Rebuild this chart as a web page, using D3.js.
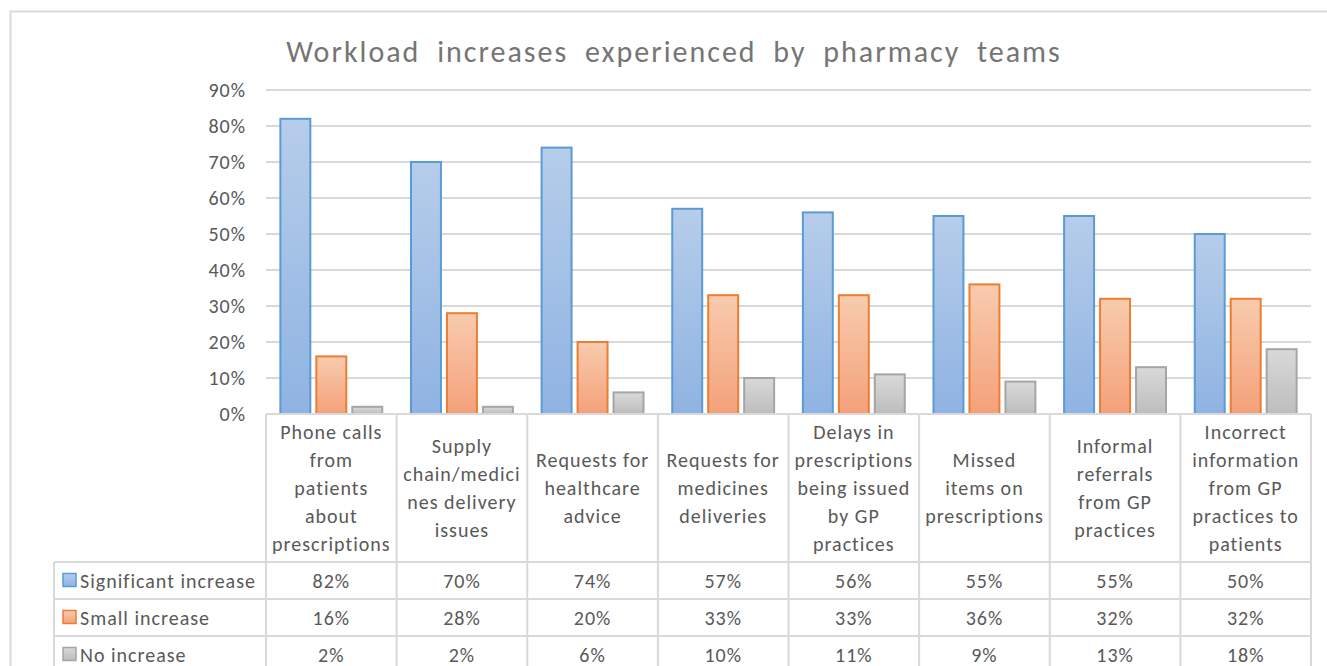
<!DOCTYPE html>
<html>
<head>
<meta charset="utf-8">
<script src="https://cdn.jsdelivr.net/npm/d3@7"></script>
<style>
  body { margin: 0; background: #fff; }
  text { font-family: Carlito, Calibri, Lato, "Open Sans", sans-serif; fill: #595959; letter-spacing: 1px; }
</style>
</head>
<body>
<div id="chart"></div>
<script>
// data
const categories = [
    ["Phone calls", "from", "patients", "about", "prescriptions"],
    ["Supply", "chain/medici", "nes delivery", "issues"],
    ["Requests for", "healthcare", "advice"],
    ["Requests for", "medicines", "deliveries"],
    ["Delays in", "prescriptions", "being issued", "by GP", "practices"],
    ["Missed", "items on", "prescriptions"],
    ["Informal", "referrals", "from GP", "practices"],
    ["Incorrect", "information", "from GP", "practices to", "patients"]
];
const seriesNames = ["Significant increase", "Small increase", "No increase"];
const significant = [82, 70, 74, 57, 56, 55, 55, 50];
const small = [16, 28, 20, 33, 33, 36, 32, 32];
const noIncrease = [2, 2, 6, 10, 11, 9, 13, 18];
const yTicks = [0, 10, 20, 30, 40, 50, 60, 70, 80, 90];

const seriesValues = [significant, small, noIncrease];
const strokes = ["#5b9bd5", "#ed7d31", "#a5a5a5"];
const gradTop = ["#b6cdea", "#f8cbae", "#d9d9d9"];
const gradBottom = ["#8fb3e2", "#f4a17a", "#bdbdbd"];

const width = 1327, height = 666;
const margin = { top: 90, right: 16, left: 266 };
const plotRight = width - margin.right;
const plotBottom = 414;
const headerH = 148, rowH = 37, tableLeft = 54;
const fontSize = "20px";

const svg = d3.select("#chart").append("svg")
    .attr("width", width)
    .attr("height", height);

const defs = svg.append("defs");
strokes.forEach((c, i) => {
    const g = defs.append("linearGradient")
        .attr("id", "grad" + i)
        .attr("x1", 0).attr("y1", 0).attr("x2", 0).attr("y2", 1);
    g.append("stop").attr("offset", "0%").attr("stop-color", gradTop[i]);
    g.append("stop").attr("offset", "100%").attr("stop-color", gradBottom[i]);
});

// outer chart border
svg.append("rect")
    .attr("x", 10.5).attr("y", 11.5)
    .attr("width", 1340).attr("height", 700)
    .attr("fill", "none")
    .attr("stroke", "#d9d9d9")
    .attr("stroke-width", 2);

// title
svg.append("text")
    .attr("x", 674).attr("y", 62)
    .attr("text-anchor", "middle")
    .style("font-size", "30px")
    .style("letter-spacing", "2px")
    .style("word-spacing", "8px")
    .style("fill", "#757575")
    .text("Workload increases experienced by pharmacy teams");

// scales
const x0 = d3.scaleBand()
    .domain(d3.range(categories.length))
    .range([margin.left, plotRight])
    .paddingInner(0.22)
    .paddingOuter(0.11);

const x1 = d3.scaleBand()
    .domain(d3.range(seriesNames.length))
    .range([0, x0.bandwidth()])
    .paddingInner(0.167);

const y = d3.scaleLinear()
    .domain([0, 90])
    .range([plotBottom, margin.top]);

// gridlines
svg.append("g")
    .selectAll("line")
    .data(yTicks.slice(1))
    .join("line")
    .attr("x1", margin.left).attr("x2", plotRight)
    .attr("y1", d => y(d)).attr("y2", d => y(d))
    .attr("stroke", "#d9d9d9")
    .attr("stroke-width", 2);

// y axis labels
const yAxis = d3.axisLeft(y)
    .tickValues(yTicks)
    .tickFormat(d => d + "%")
    .tickSize(0)
    .tickPadding(20);

svg.append("g")
    .attr("transform", `translate(${margin.left},0)`)
    .call(yAxis)
    .call(g => g.select(".domain").remove())
    .selectAll("text")
    .style("font-size", fontSize)
    .style("fill", "#595959")
    .style("font-family", "Carlito, Calibri, Lato, sans-serif");

// bars
const step = x0.step();
seriesValues.forEach((vals, s) => {
    svg.append("g")
        .selectAll("rect")
        .data(vals)
        .join("rect")
        .attr("x", (d, i) => x0(i) + x1(s))
        .attr("y", d => y(d))
        .attr("width", x1.bandwidth())
        .attr("height", d => y(0) - y(d))
        .attr("fill", `url(#grad${s})`)
        .attr("stroke", strokes[s])
        .attr("stroke-width", 2);
});

// data table
const table = svg.append("g");
const colEdges = d3.range(categories.length + 1).map(i => margin.left + i * step);
const rowLines = [plotBottom + headerH, plotBottom + headerH + rowH, plotBottom + headerH + 2 * rowH, plotBottom + headerH + 3 * rowH];

table.append("line")
    .attr("x1", margin.left).attr("x2", plotRight)
    .attr("y1", plotBottom).attr("y2", plotBottom);

table.selectAll(".hline")
    .data(rowLines)
    .join("line")
    .attr("class", "hline")
    .attr("x1", tableLeft).attr("x2", plotRight)
    .attr("y1", d => d).attr("y2", d => d);

table.selectAll(".vline")
    .data(colEdges)
    .join("line")
    .attr("class", "vline")
    .attr("x1", d => d).attr("x2", d => d)
    .attr("y1", plotBottom).attr("y2", height + 20);

table.append("line")
    .attr("x1", tableLeft).attr("x2", tableLeft)
    .attr("y1", rowLines[0]).attr("y2", height + 20);

table.selectAll("line")
    .attr("stroke", "#d9d9d9")
    .attr("stroke-width", 2);

// category header cells
const lineH = 28;
categories.forEach((lines, i) => {
    const cx = margin.left + (i + 0.5) * step;
    const cy = plotBottom + headerH / 2;
    const t = table.append("text")
        .attr("text-anchor", "middle")
        .style("font-size", fontSize);
    lines.forEach((ln, k) => {
        t.append("tspan")
            .attr("x", cx)
            .attr("y", cy + (k - (lines.length - 1) / 2) * lineH + 7)
            .text(ln);
    });
});

// legend rows + values
seriesNames.forEach((name, s) => {
    const cy = rowLines[s] + rowH / 2;
    table.append("rect")
        .attr("x", 63).attr("y", cy - 7)
        .attr("width", 13).attr("height", 13)
        .attr("fill", `url(#grad${s})`)
        .attr("stroke", strokes[s])
        .attr("stroke-width", 1.5);
    table.append("text")
        .attr("x", 80).attr("y", cy + 7)
        .style("font-size", fontSize)
        .text(name);
    table.selectAll(".v" + s)
        .data(seriesValues[s])
        .join("text")
        .attr("class", "v" + s)
        .attr("x", (d, i) => margin.left + (i + 0.5) * step)
        .attr("y", cy + 7)
        .attr("text-anchor", "middle")
        .style("font-size", fontSize)
        .text(d => d + "%");
});
</script>
</body>
</html>
